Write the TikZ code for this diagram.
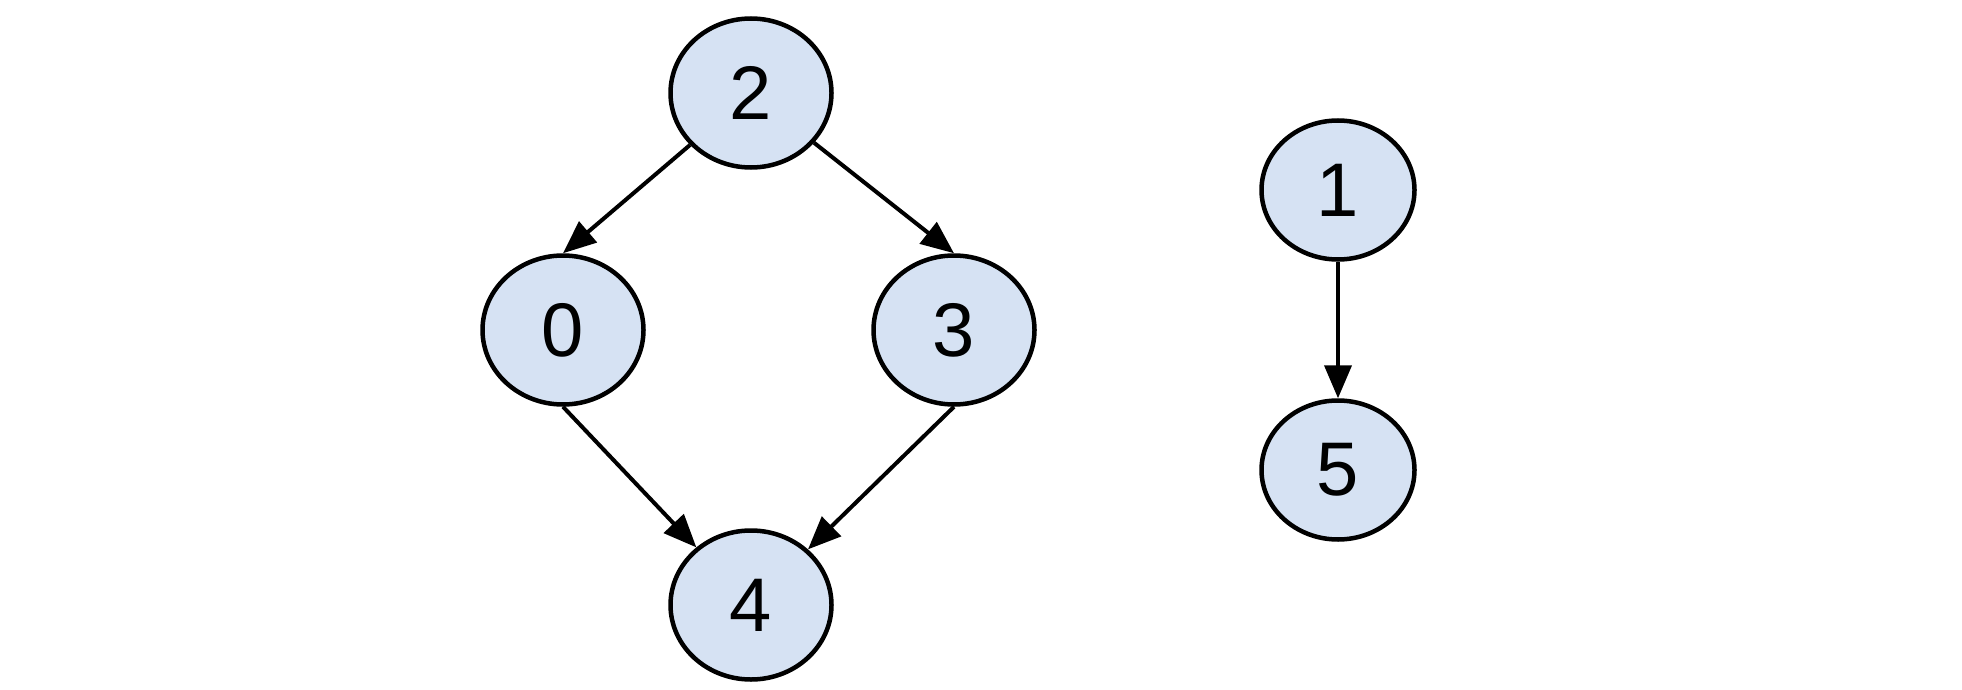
\documentclass[tikz,border=0pt]{standalone}
\usepackage{fontspec}
\setmainfont{Liberation Sans}
\usetikzlibrary{arrows.meta,shapes.geometric}
\definecolor{nodefill}{RGB}{214,226,243}

\begin{document}
\begin{tikzpicture}[x=1pt,y=-1pt,>={Triangle[length=33pt,width=27pt]}]
  \tikzstyle{vertex}=[draw,ellipse,line width=4.5pt,fill=nodefill,inner sep=0pt,minimum width=161pt,minimum height=149pt,font=\fontsize{76}{76}\selectfont]
  \tikzstyle{small}=[minimum width=153pt,minimum height=139pt]
  \useasboundingbox (0,0) rectangle (1962,690);
  \node[vertex] (n2) at (751,93) {2};
  \node[vertex] (n0) at (563,330) {0};
  \node[vertex] (n3) at (954,330) {3};
  \node[vertex] (n4) at (751,605) {4};
  \node[vertex,small] (n1) at (1338,190) {1};
  \node[vertex,small] (n5) at (1338,470) {5};
  \foreach \a/\b in {n2/n0.north,n2/n3.north,n0.south/n4,n3.south/n4,n1.south/n5.north}
    \draw[->,line width=4pt] (\a) -- (\b);
\end{tikzpicture}
\end{document}
